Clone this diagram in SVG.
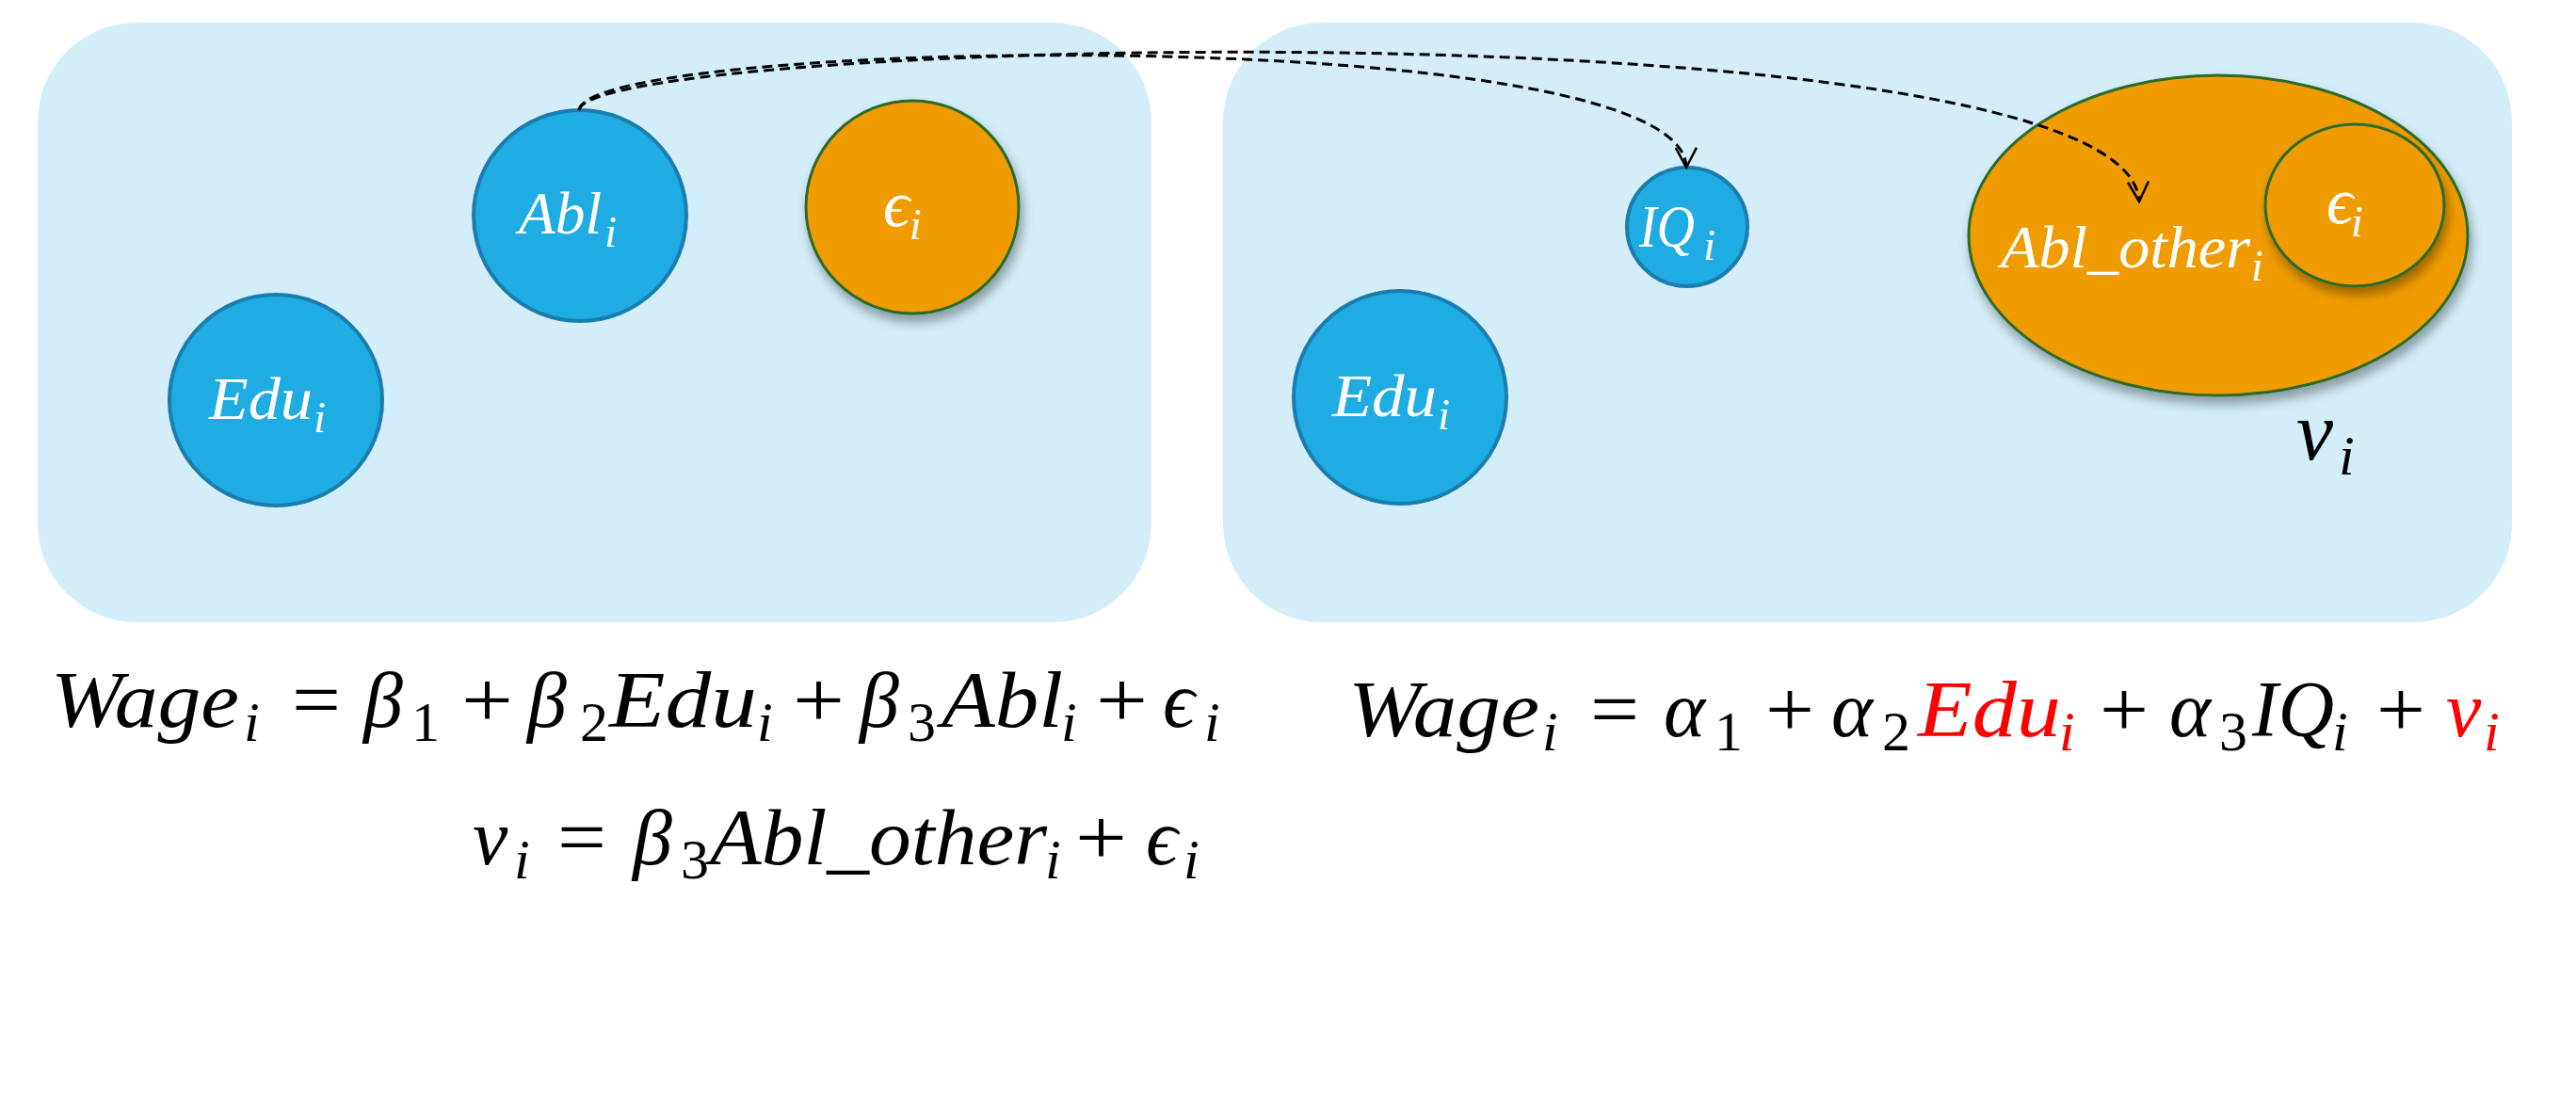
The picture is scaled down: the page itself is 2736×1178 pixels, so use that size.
<svg xmlns="http://www.w3.org/2000/svg" width="2736" height="1178" viewBox="0 0 2736 1178">
<style>
.panel { fill: #D3EEF9; }
.blue { fill: #1FACE3; stroke: #1A7DAE; stroke-width: 4; }
.orange { fill: #F09C04; stroke: #2A6A2A; stroke-width: 3; filter: url(#shadow); }
.eq { font-family: "Liberation Serif", "DejaVu Serif", serif; font-style: italic; font-size: 84px; fill: #000; }
.up { font-style: normal; }
.sub { font-size: 60px; }
.red { fill: #FF0000; }
.lbl { font-family: "Liberation Serif", "DejaVu Serif", serif; font-style: italic; font-size: 64px; fill: #FFFFFF; }
.lsub { font-size: 46px; }
.conn { fill: none; stroke: #000; stroke-width: 3; stroke-dasharray: 11 6; }
</style>
<defs>
<filter id="shadow" x="-20%" y="-20%" width="140%" height="150%">
<feDropShadow dx="3" dy="8" stdDeviation="6" flood-color="#000" flood-opacity="0.35"/>
</filter>
<marker id="vhead" viewBox="0 0 24 24" refX="22" refY="12" markerWidth="24" markerHeight="24" markerUnits="userSpaceOnUse" orient="auto">
<path d="M1,1 L22,12 L1,23" fill="none" stroke="#000" stroke-width="2.5"/>
</marker>
</defs>
<rect width="2736" height="1178" fill="#FFFFFF"/>

<g id="panel-left"><rect class="panel" x="40" y="24" width="1183" height="637" rx="105" ry="105"/></g>
<g id="panel-right"><rect class="panel" x="1299" y="24" width="1369" height="637" rx="105" ry="105"/></g>

<g id="node-edu-left">
<ellipse class="blue" cx="293" cy="425" rx="113" ry="112"/>
<text class="lbl" x="222" y="445" textLength="110" lengthAdjust="spacingAndGlyphs">Edu</text>
<text class="lbl lsub" x="333" y="459">i</text>
</g>
<g id="node-abl">
<ellipse class="blue" cx="616" cy="229" rx="113" ry="112"/>
<text class="lbl" x="551" y="248" textLength="88" lengthAdjust="spacingAndGlyphs">Abl</text>
<text class="lbl lsub" x="642" y="262">i</text>
</g>
<g id="node-eps-left">
<ellipse class="orange" cx="969" cy="220" rx="113" ry="113"/>
<text class="lbl" x="938" y="240" style="font-size:70px">ϵ</text>
<text class="lbl lsub" x="966" y="254">i</text>
</g>

<g id="node-iq">
<ellipse class="blue" cx="1792" cy="241" rx="64" ry="63"/>
<text class="lbl" x="1741" y="262" textLength="59" lengthAdjust="spacingAndGlyphs">IQ</text>
<text class="lbl lsub" x="1809" y="276">i</text>
</g>
<g id="node-edu-right">
<ellipse class="blue" cx="1487" cy="422" rx="113" ry="113"/>
<text class="lbl" x="1415" y="442" textLength="111" lengthAdjust="spacingAndGlyphs">Edu</text>
<text class="lbl lsub" x="1527" y="456">i</text>
</g>
<g id="node-abl-other">
<ellipse class="orange" cx="2356" cy="250" rx="265" ry="170"/>
<text class="lbl" x="2125" y="284" textLength="265" lengthAdjust="spacingAndGlyphs">Abl_other</text>
<text class="lbl lsub" x="2391" y="298">i</text>
</g>
<g id="node-eps-right">
<ellipse class="orange" cx="2501" cy="218" rx="95" ry="86"/>
<text class="lbl" x="2471" y="237" style="font-size:70px">ϵ</text>
<text class="lbl lsub" x="2497" y="251">i</text>
</g>
<g id="label-v">
<text class="eq" x="2439" y="488" style="font-size:88px">v</text>
<text class="eq" x="2484" y="504" style="font-size:60px">i</text>
</g>

<g id="connectors">
<path class="conn" d="M615,117 C625,40 1790,20 1791,178" marker-end="url(#vhead)"/>
<path class="conn" d="M615,117 C625,40 2262,0 2272,214" marker-end="url(#vhead)"/>
</g>

<g id="equation-1">
<text class="eq" x="54" y="772" textLength="200" lengthAdjust="spacingAndGlyphs">Wage</text>
<text class="eq sub" x="259" y="787">i</text>
<text class="eq up" x="310" y="772" textLength="52" lengthAdjust="spacingAndGlyphs">=</text>
<text class="eq" x="386" y="772">β</text>
<text class="eq up sub" x="437" y="787">1</text>
<text class="eq up" x="490" y="772" textLength="55" lengthAdjust="spacingAndGlyphs">+</text>
<text class="eq" x="560" y="772">β</text>
<text class="eq up sub" x="616" y="787">2</text>
<text class="eq" x="647" y="772" textLength="157" lengthAdjust="spacingAndGlyphs">Edu</text>
<text class="eq sub" x="804" y="787">i</text>
<text class="eq up" x="842" y="772" textLength="55" lengthAdjust="spacingAndGlyphs">+</text>
<text class="eq" x="913" y="772">β</text>
<text class="eq up sub" x="964" y="787">3</text>
<text class="eq" x="1000" y="772" textLength="129" lengthAdjust="spacingAndGlyphs">Abl</text>
<text class="eq sub" x="1127" y="787">i</text>
<text class="eq up" x="1164" y="772" textLength="55" lengthAdjust="spacingAndGlyphs">+</text>
<text class="eq" x="1235" y="772">ϵ</text>
<text class="eq sub" x="1279" y="787">i</text>
</g>

<g id="equation-2">
<text class="eq" x="502" y="918">v</text>
<text class="eq sub" x="546" y="933">i</text>
<text class="eq up" x="592" y="918" textLength="52" lengthAdjust="spacingAndGlyphs">=</text>
<text class="eq" x="672" y="918">β</text>
<text class="eq up sub" x="723" y="933">3</text>
<text class="eq" x="754" y="918" textLength="358" lengthAdjust="spacingAndGlyphs">Abl_other</text>
<text class="eq sub" x="1110" y="933">i</text>
<text class="eq up" x="1142" y="918" textLength="55" lengthAdjust="spacingAndGlyphs">+</text>
<text class="eq" x="1217" y="918">ϵ</text>
<text class="eq sub" x="1257" y="933">i</text>
</g>

<g id="equation-3">
<text class="eq" x="1432" y="782" textLength="203" lengthAdjust="spacingAndGlyphs">Wage</text>
<text class="eq sub" x="1638" y="797">i</text>
<text class="eq up" x="1689" y="782" textLength="52" lengthAdjust="spacingAndGlyphs">=</text>
<text class="eq" x="1767" y="782">α</text>
<text class="eq up sub" x="1821" y="797">1</text>
<text class="eq up" x="1875" y="782" textLength="52" lengthAdjust="spacingAndGlyphs">+</text>
<text class="eq" x="1945" y="782">α</text>
<text class="eq up sub" x="1999" y="797">2</text>
<text class="eq red" x="2037" y="782" textLength="152" lengthAdjust="spacingAndGlyphs">Edu</text>
<text class="eq sub red" x="2187" y="797">i</text>
<text class="eq up" x="2230" y="782" textLength="52" lengthAdjust="spacingAndGlyphs">+</text>
<text class="eq" x="2304" y="782">α</text>
<text class="eq up sub" x="2357" y="797">3</text>
<text class="eq" x="2392" y="782" textLength="87" lengthAdjust="spacingAndGlyphs">IQ</text>
<text class="eq sub" x="2477" y="797">i</text>
<text class="eq up" x="2524" y="782" textLength="52" lengthAdjust="spacingAndGlyphs">+</text>
<text class="eq red" x="2598" y="782">v</text>
<text class="eq sub red" x="2638" y="797">i</text>
</g>
</svg>
